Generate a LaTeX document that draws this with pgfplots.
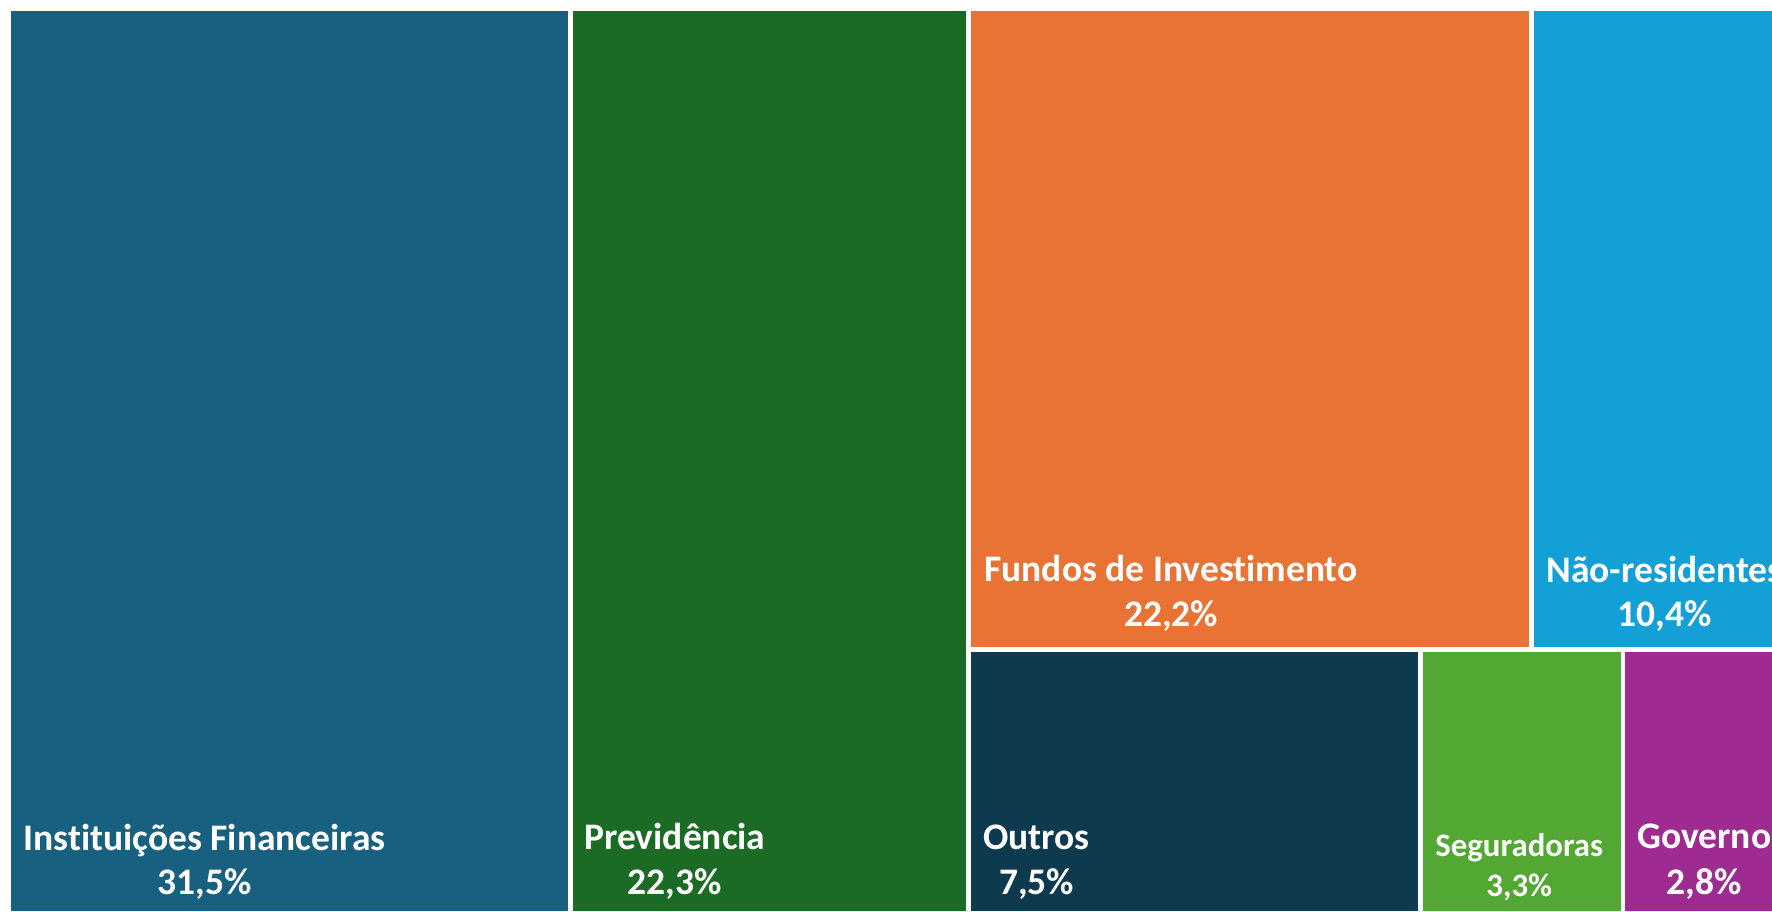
\documentclass[border=0pt]{standalone}
\usepackage{fontspec}
\setmainfont{Carlito}[Ligatures={NoCommon,NoContextual}]
\usepackage{pgfplots}
\pgfplotsset{compat=1.18}
\definecolor{cIF}{RGB}{23,96,128}
\definecolor{cPR}{RGB}{27,107,37}
\definecolor{cFI}{RGB}{233,115,52}
\definecolor{cNR}{RGB}{18,160,215}
\definecolor{cOU}{RGB}{14,58,80}
\definecolor{cSE}{RGB}{82,168,50}
\definecolor{cGO}{RGB}{158,43,143}
\tikzset{
  lab/.style={anchor=base west, inner sep=0pt, text=white, font=\fontsize{18.75pt}{22pt}\selectfont\bfseries},
  labc/.style={anchor=base, inner sep=0pt, text=white, font=\fontsize{18.75pt}{22pt}\selectfont\bfseries},
  labs/.style={anchor=base west, inner sep=0pt, text=white, font=\fontsize{16.4pt}{20pt}\selectfont\bfseries},
  labsc/.style={anchor=base, inner sep=0pt, text=white, font=\fontsize{16.4pt}{20pt}\selectfont\bfseries},
}
\begin{document}
\begin{tikzpicture}
\begin{axis}[
  width=886pt, height=455.5pt, scale only axis,
  xmin=0, xmax=1772, ymin=0, ymax=911, y dir=reverse,
  hide axis, clip=true,
]
% background
\addplot[fill=white, draw=none] coordinates {(0,0) (1772,0) (1772,911) (0,911)};
% rectangles (pixel coordinates of the treemap cells)
\addplot[fill=cIF, draw=none] coordinates {(11,11) (568,11) (568,911) (11,911)};
\addplot[fill=cPR, draw=none] coordinates {(573,11) (966,11) (966,911) (573,911)};
\addplot[fill=cFI, draw=none] coordinates {(971,11) (1529,11) (1529,647) (971,647)};
\addplot[fill=cNR, draw=none] coordinates {(1534,11) (1772,11) (1772,647) (1534,647)};
\addplot[fill=cOU, draw=none] coordinates {(971,652) (1418,652) (1418,911) (971,911)};
\addplot[fill=cSE, draw=none] coordinates {(1423,652) (1621,652) (1621,911) (1423,911)};
\addplot[fill=cGO, draw=none] coordinates {(1625,652) (1772,652) (1772,911) (1625,911)};
% labels
\node[lab] (a1) at (axis cs:23,850) {Instituições Financeiras};
\node[labc] at ([yshift=-22pt]a1.base) {31,5\%};
\node[lab] (b1) at (axis cs:584,849) {Previdência};
\node[labc] at ([yshift=-22.5pt]b1.base) {22,3\%};
\node[lab] (c1) at (axis cs:984,581) {Fundos de Investimento};
\node[labc] at ([yshift=-22.5pt]c1.base) {22,2\%};
\node[lab] (d1) at (axis cs:1546,582) {Não-residentes};
\node[labc] at ([yshift=-22pt]d1.base) {10,4\%};
\node[lab] (e1) at (axis cs:983,849) {Outros};
\node[labc] at ([yshift=-22.5pt]e1.base) {7,5\%};
\node[labs] (f1) at (axis cs:1435,856) {Seguradoras};
\node[labsc] at ([yshift=-20pt]f1.base) {3,3\%};
\node[lab] (g1) at (axis cs:1637,848) {Governo};
\node[labc] at ([yshift=-23pt]g1.base) {2,8\%};
\end{axis}
\end{tikzpicture}
\end{document}
